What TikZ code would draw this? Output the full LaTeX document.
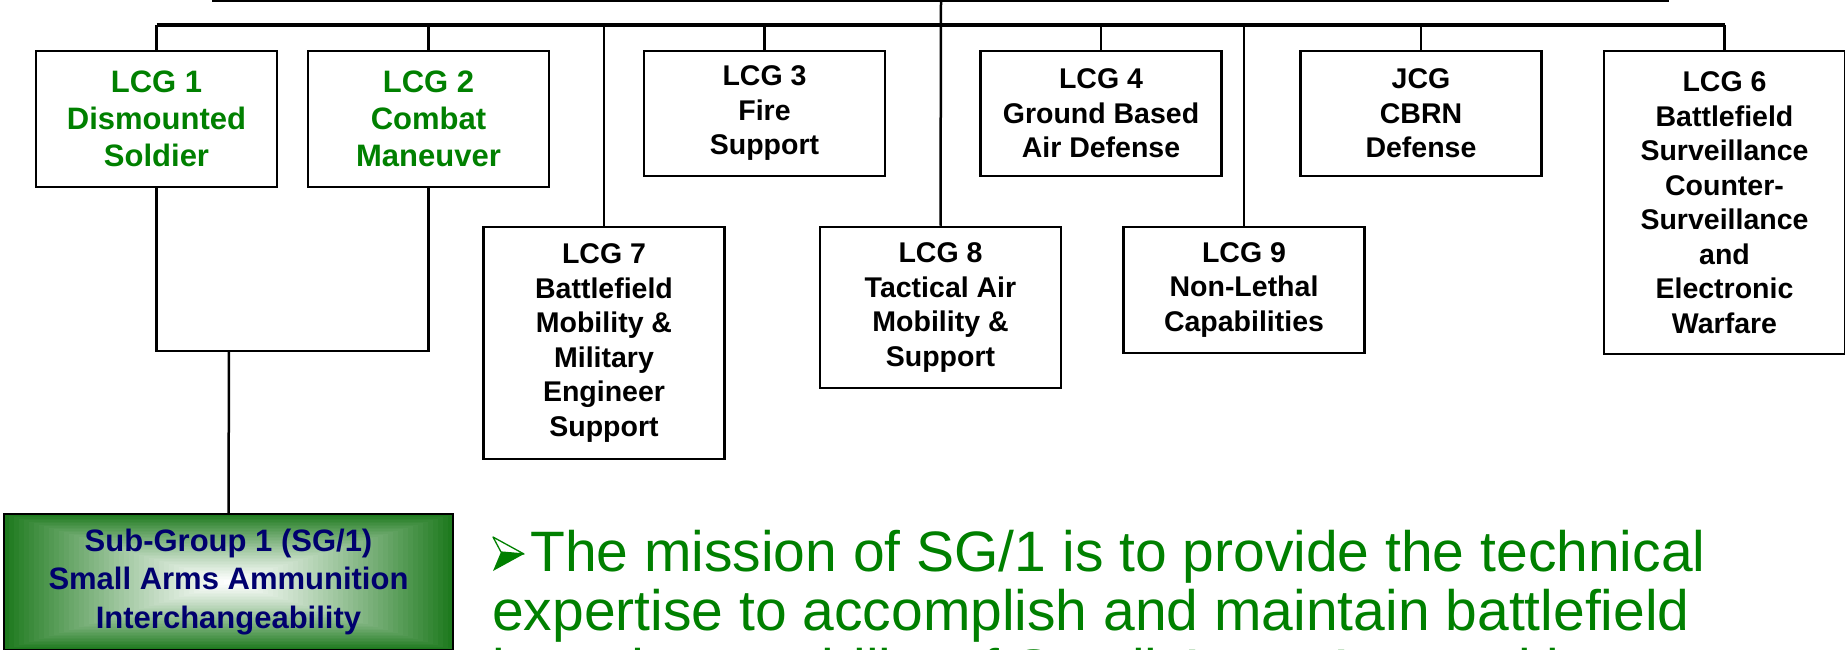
\documentclass[tikz,border=0pt]{standalone}
\usepackage{fontspec}
\setmainfont{Liberation Sans}
\definecolor{lgreen}{RGB}{0,128,0}
\definecolor{navytext}{RGB}{0,0,110}
\definecolor{sgedge}{RGB}{30,122,30}
\begin{document}
\begin{tikzpicture}[x=1pt,y=-1pt,
  box/.style={draw=black, line width=2.5pt, fill=white, minimum width=241pt, inner sep=0pt, align=center,
    font=\bfseries\fontsize{28.5}{34.5}\selectfont, text=black},
  gbox/.style={box, font=\bfseries\fontsize{31}{37}\selectfont, text=lgreen},
  conn/.style={line width=2.5pt},
  bus/.style={line width=3.5pt},
  bigtext/.style={anchor=base west, inner sep=0pt, text=lgreen, font=\fontsize{57}{64}\selectfont}]
\useasboundingbox (0,0) rectangle (1845,650);
\clip (0,0) rectangle (1845,650);
% boxes
\node[gbox, minimum height=136pt] (lcg1) at (156.5,119) {LCG 1\\Dismounted\\Soldier};
\node[gbox, minimum height=136pt] (lcg2) at (428.5,119) {LCG 2\\Combat\\Maneuver};
\node[box, minimum height=125pt] (lcg3) at (764.5,113.5) {LCG 3\\Fire\\Support};
\node[box, minimum height=125pt] (lcg4) at (1101,113.5) {LCG 4\\Ground Based\\Air Defense};
\node[box, minimum height=125pt] (jcg) at (1421,113.5) {JCG\\CBRN\\Defense};
\node[box, minimum height=303pt] (lcg6) at (1724.5,202.5) {LCG 6\\Battlefield\\Surveillance\\Counter-\\Surveillance\\and\\Electronic\\Warfare};
\node[box, minimum height=232pt] (lcg7) at (604,343) {LCG 7\\Battlefield\\Mobility \&\\Military\\Engineer\\Support};
\node[box, minimum height=161pt] (lcg8) at (940.5,307.5) {LCG 8\\Tactical Air\\Mobility \&\\Support};
\node[box, minimum height=126pt] (lcg9) at (1244,290) {LCG 9\\Non-Lethal\\Capabilities};
% SG1 gradient box
\foreach \i in {0,...,45}{
  \pgfmathsetmacro\t{\i/45}
  \pgfmathsetmacro\p{100*(1-\t)^1.2}
  \fill[sgedge!\p!white] ({228.5-224.5*(1-\t)},{582-68*(1-\t)}) rectangle ({228.5+224.5*(1-\t)},{582+68*(1-\t)});
}
\node[draw=black, line width=2.5pt, minimum width=449pt, minimum height=136pt, inner sep=0pt, align=center,
  font=\bfseries\fontsize{31}{38.5}\selectfont, text=navytext] (sg1) at (228.5,582)
  {Sub-Group 1 (SG/1)\\Small Arms Ammunition\\Interchangeability};
% connectors
\coordinate (busref) at (941,25);
\coordinate (topL) at (212,1);
\coordinate (topR) at (1669,1);
\coordinate (trunktop) at (941,0);
\coordinate (join) at (229,351);
\draw[line width=2pt] (topL) -- (topR);
\draw[bus] (lcg1.north |- busref) -- (lcg6.north |- busref);
\draw[conn] (trunktop) -- (lcg8.north);
\foreach \n in {lcg1,lcg2,lcg3,lcg4,jcg,lcg6,lcg7,lcg9}{
  \draw[conn] (\n.north |- busref) -- (\n.north);
}
\draw[conn] (lcg1.south) -- (lcg1.south |- join) -- (lcg2.south |- join) -- (lcg2.south);
\draw[conn] (join) -- (sg1.north);
% bullet arrowhead
\coordinate (aTop) at (493,537);
\coordinate (aTip) at (524,554);
\coordinate (aBot) at (493,571);
\coordinate (aIn) at (501,552);
\fill[lgreen] (aIn) -- (aTip) -- (aBot) -- cycle;
\draw[lgreen, line width=1.3pt, line join=round] (aTop) -- (aTip) -- (aIn) -- cycle;
% mission text
\node[bigtext] (m1) at (530,571) {The mission of SG/1 is to provide the technical};
\node[bigtext] (m2) at (492,630) {expertise to accomplish and maintain battlefield};
\node[bigtext] (m3) at (492,689) {interchangeability of Small Arms Ammunition};
\end{tikzpicture}
\end{document}
